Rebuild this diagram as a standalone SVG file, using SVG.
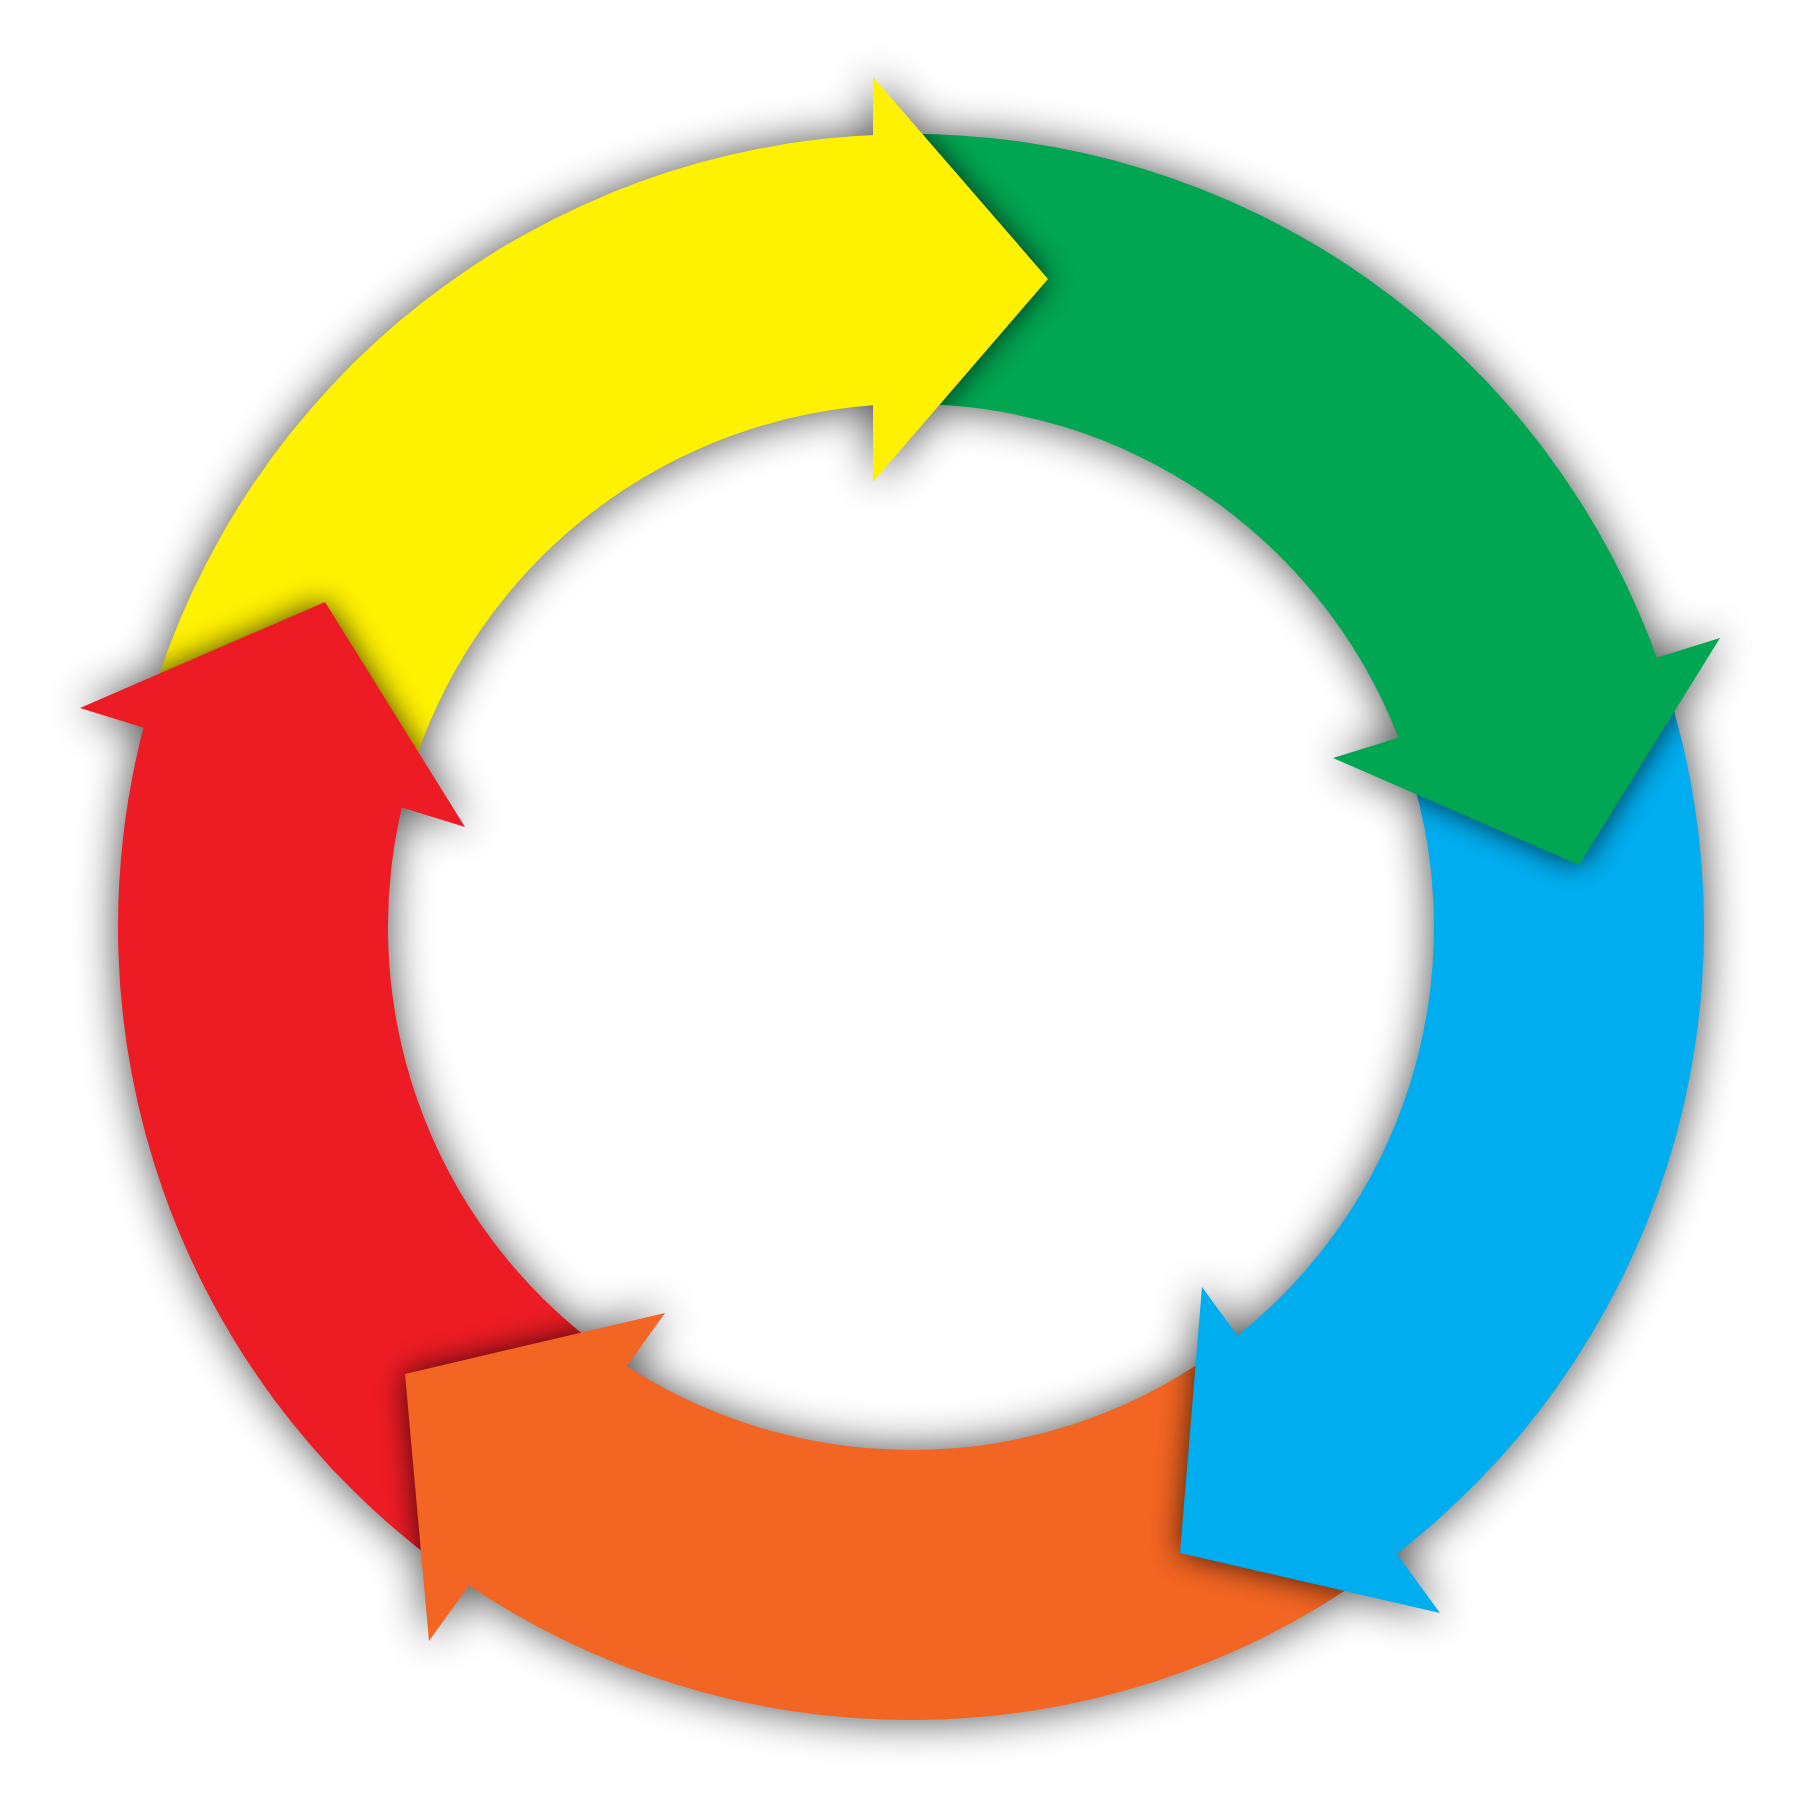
<svg xmlns="http://www.w3.org/2000/svg" xmlns:xlink="http://www.w3.org/1999/xlink" width="1800" height="1800" viewBox="0 0 1800 1800">
<style>
.y{fill:#FFF200}.g{fill:#00A651}.b{fill:#00AEEF}.o{fill:#F26522}.r{fill:#ED1C24}
.sh{fill:#000;opacity:0.75}
</style>
<defs>
<filter id="ds" x="-20%" y="-20%" width="140%" height="140%"><feGaussianBlur stdDeviation="22"/></filter>
<filter id="hs" x="-40%" y="-40%" width="180%" height="180%"><feGaussianBlur stdDeviation="15"/></filter>
<path id="bY" d="M 148.7 708.4 A 793 793 0 0 1 883.3 134.5 L 892.7 404.3 A 523 523 0 0 0 408.3 782.8 Z"/>
<path id="bG" d="M 897.2 134.1 A 793 793 0 0 1 1660.8 668.8 L 1405.5 756.7 A 523 523 0 0 0 901.9 404.1 Z"/>
<path id="bB" d="M 1665.2 681.9 A 793 793 0 0 1 1386.0 1562.0 L 1224.3 1345.8 A 523 523 0 0 0 1408.4 765.4 Z"/>
<path id="bO" d="M 1371.5 1572.6 A 793 793 0 0 1 458.4 1578.2 L 612.5 1356.5 A 523 523 0 0 0 1214.7 1352.8 Z"/>
<path id="bR" d="M 444.9 1568.6 A 793 793 0 0 1 146.1 717.8 L 406.5 789.0 A 523 523 0 0 0 603.6 1350.1 Z"/>
<polygon id="hY" points="873,77 1048,279 873,482"/>
<polygon id="hG" points="1720,638 1579,865 1333,758"/>
<polygon id="hB" points="1202,1287 1180,1553 1440,1613"/>
<polygon id="hO" points="665,1313 405,1374 429,1641"/>
<polygon id="hR" points="80,708 325,602 465,827"/>
<clipPath id="cY"><use href="#bY" xlink:href="#bY"/></clipPath>
<clipPath id="cG"><use href="#bG" xlink:href="#bG"/></clipPath>
<clipPath id="cB"><use href="#bB" xlink:href="#bB"/></clipPath>
<clipPath id="cO"><use href="#bO" xlink:href="#bO"/></clipPath>
<clipPath id="cR"><use href="#bR" xlink:href="#bR"/></clipPath>
</defs>
<rect width="1800" height="1800" fill="#ffffff"/>
<g id="drop-shadow" filter="url(#ds)" opacity="0.7" fill="#000">
<path fill-rule="evenodd" d="M 911 134 A 793 793 0 1 1 911 1720 A 793 793 0 1 1 911 134 Z M 911 404 A 523 523 0 1 0 911 1450 A 523 523 0 1 0 911 404 Z"/>
<use href="#hY" xlink:href="#hY"/><use href="#hG" xlink:href="#hG"/><use href="#hB" xlink:href="#hB"/><use href="#hO" xlink:href="#hO"/><use href="#hR" xlink:href="#hR"/>
</g>
<g id="arrow-yellow-body"><use class="y" href="#bY" xlink:href="#bY"/></g>
<g id="arrow-green-body"><use class="g" href="#bG" xlink:href="#bG"/></g>
<g id="arrow-blue-body"><use class="b" href="#bB" xlink:href="#bB"/></g>
<g id="arrow-orange-body"><use class="o" href="#bO" xlink:href="#bO"/></g>
<g id="arrow-red-body"><use class="r" href="#bR" xlink:href="#bR"/></g>
<g id="arrow-yellow-head">
<g clip-path="url(#cG)"><use class="sh" filter="url(#hs)" href="#hY" xlink:href="#hY"/></g>
<use class="y" href="#hY" xlink:href="#hY"/>
</g>
<g id="arrow-green-head">
<g clip-path="url(#cB)"><use class="sh" filter="url(#hs)" href="#hG" xlink:href="#hG"/></g>
<use class="g" href="#hG" xlink:href="#hG"/>
</g>
<g id="arrow-blue-head">
<g clip-path="url(#cO)"><use class="sh" filter="url(#hs)" href="#hB" xlink:href="#hB"/></g>
<use class="b" href="#hB" xlink:href="#hB"/>
</g>
<g id="arrow-orange-head">
<g clip-path="url(#cR)"><use class="sh" filter="url(#hs)" href="#hO" xlink:href="#hO"/></g>
<use class="o" href="#hO" xlink:href="#hO"/>
</g>
<g id="arrow-red-head">
<g clip-path="url(#cY)"><use class="sh" filter="url(#hs)" href="#hR" xlink:href="#hR"/></g>
<use class="r" href="#hR" xlink:href="#hR"/>
</g>
</svg>
